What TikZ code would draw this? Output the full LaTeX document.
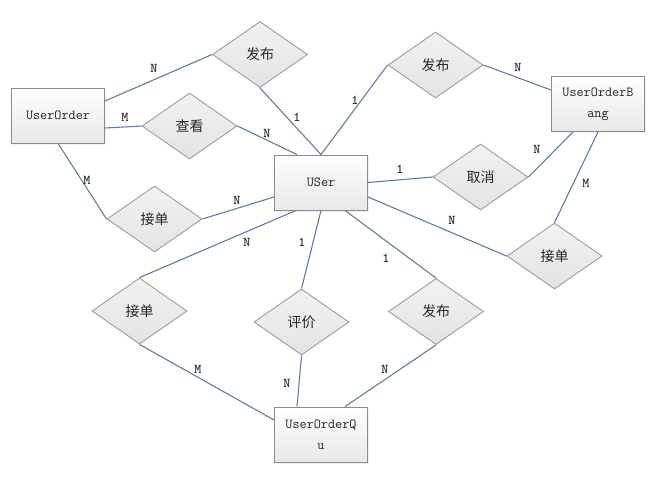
\documentclass[tikz,border=0pt]{standalone}
\usepackage{fontspec}
\newfontfamily\cjk{Noto Sans CJK SC}
\usetikzlibrary{shapes.geometric,shadows}
\definecolor{linec}{RGB}{98,124,163}
\definecolor{bordc}{RGB}{140,140,140}
\tikzset{
  entity/.style={draw=bordc, line width=0.9pt, rectangle, minimum width=93pt, minimum height=55pt,
    top color=white, bottom color=black!9, align=center, inner sep=2pt, text=black!85,
    font=\ttfamily\fontsize{13.8}{21}\selectfont,
    drop shadow={opacity=0.12, shadow xshift=1.5pt, shadow yshift=-1.5pt}},
  rel/.style={draw=bordc!85, line width=0.9pt, diamond, minimum width=95pt, minimum height=66pt,
    inner sep=0pt, top color=black!5, bottom color=black!11, text=black!85,
    font=\cjk\fontsize{14}{16}\selectfont},
  conn/.style={draw=linec, line width=1.1pt},
  card/.style={font=\ttfamily\bfseries\fontsize{13.5}{13.5}\selectfont, inner sep=0pt, text=black!80},
}
\begin{document}
\begin{tikzpicture}[x=1pt,y=-1pt]
\useasboundingbox (0,0) rectangle (653,480);
% entities
\node[entity] (uo)  at (58,115.5) {UserOrder};
\node[entity] (us)  at (321,182.5) {USer};
\node[entity] (uob) at (598,104) {UserOrderB\\ang};
\node[entity] (uoq) at (321,434.5) {UserOrderQ\\u};
% relations
\node[rel] (d1) at (260,54.5) {发布};
\node[rel] (d2) at (189.5,126) {查看};
\node[rel] (d3) at (154.5,219) {接单};
\node[rel] (d4) at (435.5,65) {发布};
\node[rel] (d5) at (480.5,177) {取消};
\node[rel] (d6) at (554.5,256) {接单};
\node[rel] (d7) at (139.5,311) {接单};
\node[rel] (d8) at (301.5,322) {评价};
\node[rel] (d9) at (436,311.5) {发布};
% connectors
\draw[conn] ([yshift=14.5pt]uo.east) -- (d1.west);
\draw[conn] ([yshift=-12.5pt]uo.east) -- (d2.west);
\draw[conn] (d2.east) -- ([xshift=-24pt]us.north);
\draw[conn] (d1.south) -- (us.north);
\draw[conn] (uo.south) -- (d3.west);
\draw[conn] (d3.east) -- ([yshift=-14.5pt]us.west);
\draw[conn] (us.north) -- (d4.west);
\draw[conn] (d4.east) -- ([yshift=14pt]uob.west);
\draw[conn] (us.east) -- (d5.west);
\draw[conn] (d5.east) -- ([xshift=-25pt]uob.south);
\draw[conn] (uob.south) -- (d6.north);
\draw[conn] ([yshift=-14.5pt]us.east) -- (d6.west);
\draw[conn] ([xshift=-25pt]us.south) -- (d7.north);
\draw[conn] (us.south) -- (d8.north);
\draw[conn] ([xshift=24pt]us.south) -- (d9.north);
\draw[conn] (d7.south) -- ([yshift=14.5pt]uoq.west);
\draw[conn] (d8.south) -- ([xshift=-24pt]uoq.north);
\draw[conn] (d9.south) -- ([xshift=24pt]uoq.north);
% cardinalities
\node[card] (c1)  at (154,68)  {N};
\node[card] (c2)  at (125,117) {M};
\node[card] (c3)  at (267,133) {N};
\node[card] (c4)  at (297,117) {1};
\node[card] (c5)  at (87,180)  {M};
\node[card] (c6)  at (237,200) {N};
\node[card] (c7)  at (355,100) {1};
\node[card] (c8)  at (518,67)  {N};
\node[card] (c9)  at (400,169) {1};
\node[card] (c10) at (537,149) {N};
\node[card] (c11) at (586,183) {M};
\node[card] (c12) at (452,220) {N};
\node[card] (c13) at (247,242) {N};
\node[card] (c14) at (302,242) {1};
\node[card] (c15) at (386,258) {1};
\node[card] (c16) at (198,369) {M};
\node[card] (c17) at (287,383) {N};
\node[card] (c18) at (385,369) {N};
\end{tikzpicture}
\end{document}
